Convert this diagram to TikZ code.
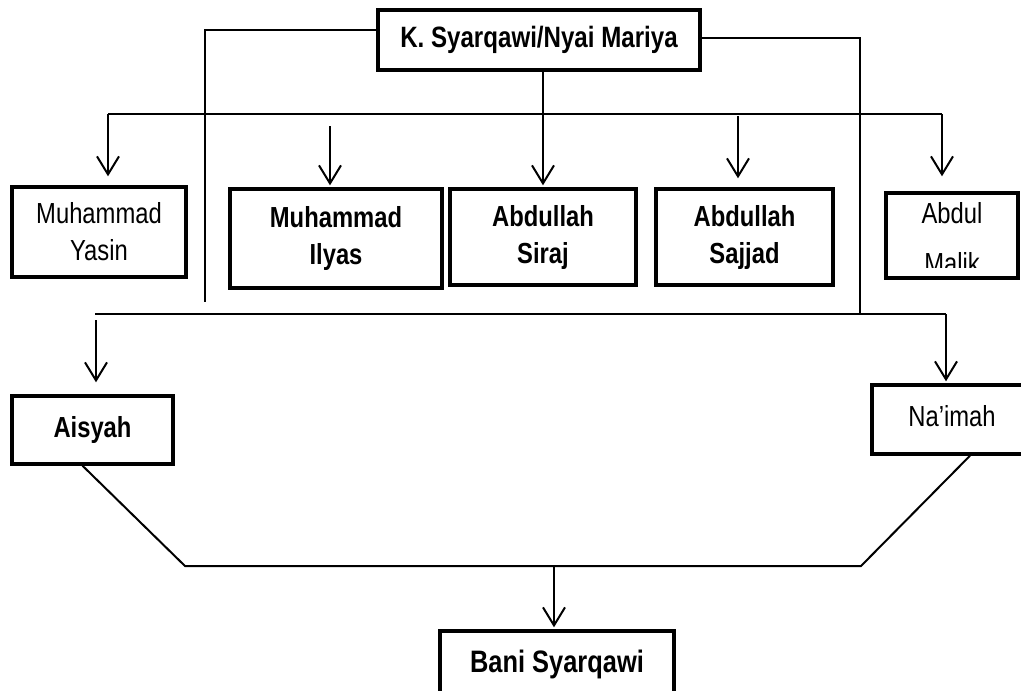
\documentclass[tikz,border=0pt]{standalone}
\usepackage{fontspec}
\setmainfont{Liberation Sans}[FakeStretch=0.82]
\usetikzlibrary{arrows.meta,calc}
\begin{document}
\begin{tikzpicture}[x=1pt,y=-1pt,
  box/.style={draw,line width=3.4pt,rectangle,inner sep=0pt,align=center,
    font=\fontsize{29}{37}\selectfont},
  bbox/.style={box,font=\fontsize{29}{37}\selectfont\bfseries},
  lbl/.style={inner sep=0pt,font=\fontsize{29}{37}\selectfont},
  conn/.style={line width=2pt},
  side/.style={line width=1.6pt},
  arr/.style={line width=2pt,-{Straight Barb[length=18pt,width=22pt,line width=2pt]}}
]
\useasboundingbox (0,0) rectangle (1021,691);
\clip (0,0) rectangle (1021,691);
% boxes
\node[bbox,line width=4pt,minimum width=322pt,minimum height=60pt,font=\fontsize{29.4}{37}\selectfont\bfseries] (top) at (539,40) {K. Syarqawi/Nyai Mariya};
\node[box,minimum width=174pt,minimum height=90pt] (yasin) at (99,232) {Muhammad\\Yasin};
\node[bbox,minimum width=212pt,minimum height=99pt] (ilyas) at (336,238.5) {Muhammad\\Ilyas};
\node[bbox,minimum width=186pt,minimum height=96pt] (siraj) at (543,237) {Abdullah\\Siraj};
\node[bbox,minimum width=177pt,minimum height=96pt] (sajjad) at (744.5,237) {Abdullah\\Sajjad};
\node[box,minimum width=132pt,minimum height=85pt] (malik) at (952,235.5) {};
\begin{scope}
  \clip (890,196) rectangle (1014,267);
  \node[lbl,anchor=base] (malikA) at (952,223) {Abdul};
  \node[lbl,anchor=base] (malikB) at (952,273) {Malik};
\end{scope}
\node[bbox,minimum width=161pt,minimum height=68pt] (aisyah) at (92.5,430) {Aisyah};
\node[box,minimum width=160pt,minimum height=69pt] (naimah) at (952,419.5) {};
\node[lbl,anchor=base] (naimahT) at (952,426) {Na’imah};
\node[bbox,minimum width=234pt,minimum height=66pt,font=\fontsize{31}{37}\selectfont\bfseries] (bani) at (557,664) {Bani Syarqawi};
% coordinates
\coordinate (lv) at (205,302);
\coordinate (rv) at (860,314);
\coordinate (h1L) at (108,114);
\coordinate (h1R) at (942,114);
\coordinate (ia) at (330,126);
\coordinate (sa) at (738,116);
\coordinate (h2L) at (95,314);
\coordinate (h2R) at (946,314);
\coordinate (aa) at (96,320);
\coordinate (bl) at (185,566);
\coordinate (br) at (861,566);
\coordinate (bm) at (554,566);
% side lines from parents
\draw[side] ([yshift=10pt]top.west) -| (lv);
\draw[side] ([yshift=2pt]top.east) -| (rv);
% first generation
\draw[conn] (h1L) -- (h1R);
\draw[arr,shorten >=9pt] (h1L) -- (h1L |- yasin.north);
\draw[arr,shorten >=2pt] (ia) -- (ia |- ilyas.north);
\draw[arr,shorten >=2pt] (siraj.north |- top.south) -- (siraj.north);
\draw[arr,shorten >=9pt] (sa) -- (sa |- sajjad.north);
\draw[arr,shorten >=15pt] (h1R) -- (h1R |- malik.north);
% second branch
\draw[conn] (h2L) -- (h2R);
\draw[arr,shorten >=12pt] (aa) -- (aa |- aisyah.north);
\draw[arr,shorten >=2pt] (h2R) -- (h2R |- naimah.north);
% union
\draw[conn] ([xshift=-10pt]aisyah.south) -- (bl) -- (br) -- ([xshift=18pt]naimah.south);
\draw[arr,shorten >=2pt] (bm) -- (bm |- bani.north);
\end{tikzpicture}
\end{document}
